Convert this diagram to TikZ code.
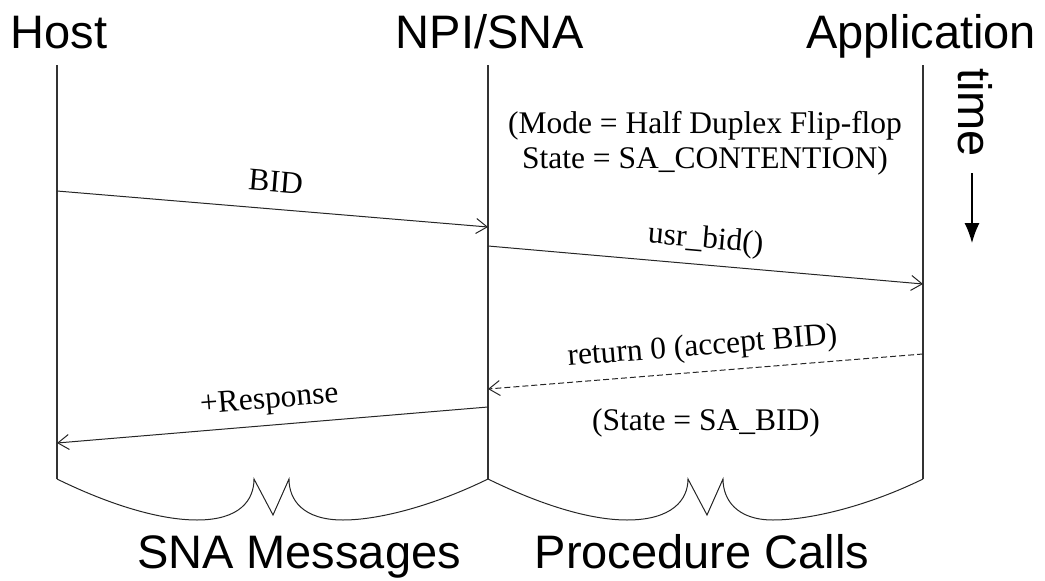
\documentclass[tikz,border=0pt]{standalone}
\usepackage{fontspec}
\setmainfont{Liberation Serif}
\newfontfamily\headfont{Liberation Sans}
\usetikzlibrary{arrows.meta}

\tikzset{
  lifeline/.style={draw=black!80, line width=1.1pt},
  msg/.style={draw=black!85, line width=1pt, -{Straight Barb[length=11pt,width=15pt,line width=1pt]}},
  reply/.style={msg, dash pattern=on 6pt off 3pt},
  brace/.style={draw=black!85, line width=1pt, line join=miter},
  head/.style={font=\headfont\fontsize{47}{56}\selectfont, inner sep=0pt, anchor=base},
  note/.style={font=\fontsize{31.5}{35}\selectfont, inner sep=0pt, anchor=base},
  timearrow/.style={draw=black, line width=1.3pt, -{Latex[length=20pt,width=15pt]}}
}

\begin{document}
\begin{tikzpicture}[x=1pt, y=-1pt]
\useasboundingbox (0,0) rectangle (1045,581);

% participants
\node[head] (host) at (59,48) {Host};
\node[head] (npi)  at (490,48) {NPI/SNA};
\node[head] (app)  at (921,48) {Application};

% lifelines
\coordinate (hT) at (57,65);  \coordinate (hB) at (57,479);
\coordinate (nT) at (488,65); \coordinate (nB) at (488,479);
\coordinate (aT) at (923,65); \coordinate (aB) at (923,479);
\draw[lifeline] (hT) -- (hB);
\draw[lifeline] (nT) -- (nB);
\draw[lifeline] (aT) -- (aB);

% state before the bid (base anchor sits on the last line)
\node[note, align=center, anchor=base] (mode) at (705,168)
  {(Mode = Half Duplex Flip-flop\\State = SA\_CONTENTION)};

% message end points
\coordinate (m1a) at (57,191);  \coordinate (m1b) at (488,227);
\coordinate (m2a) at (488,246); \coordinate (m2b) at (923,284);
\coordinate (m3a) at (923,354); \coordinate (m3b) at (488,389);
\coordinate (m4a) at (488,407); \coordinate (m4b) at (57,443);

\draw[msg]   (m1a) -- (m1b);
\draw[msg]   (m2a) -- (m2b);
\draw[reply] (m3a) -- (m3b);
\draw[msg]   (m4a) -- (m4b);

\node[note, rotate=-4.77] (lbid) at (275,192) {BID};
\node[note, rotate=-4.99] (lusr) at (705,248) {usr\_bid()};
\node[note, rotate=4.6]   (lret) at (703,355) {return 0 (accept BID)};
\node[note, rotate=4.77]  (lrsp) at (270,408) {+Response};
\node[note] (stbid) at (706,430) {(State = SA\_BID)};

% time direction
\node[head, anchor=base west, rotate=-90] (time) at (958,68) {time};
\coordinate (t1) at (972,173);
\coordinate (t2) at (972,243);
\draw[timearrow] (t1) -- (t2);

% grouping braces
\draw[brace] (hB) .. controls (110,505) and (160,520) .. (197,520)
  .. controls (240,520) and (254,500) .. (254,479)
  -- (273,515) -- (289,479)
  .. controls (289,500) and (303,520) .. (343,520)
  .. controls (380,520) and (435,505) .. (nB);
\draw[brace] (nB) .. controls (541,505) and (590,520) .. (627,520)
  .. controls (672,520) and (688,500) .. (688,479)
  -- (707,515) -- (723,479)
  .. controls (723,500) and (737,520) .. (773,520)
  .. controls (812,520) and (870,505) .. (aB);

\node[head] (gsna)  at (299,568) {SNA Messages};
\node[head] (gproc) at (702,568) {Procedure Calls};
\end{tikzpicture}
\end{document}
